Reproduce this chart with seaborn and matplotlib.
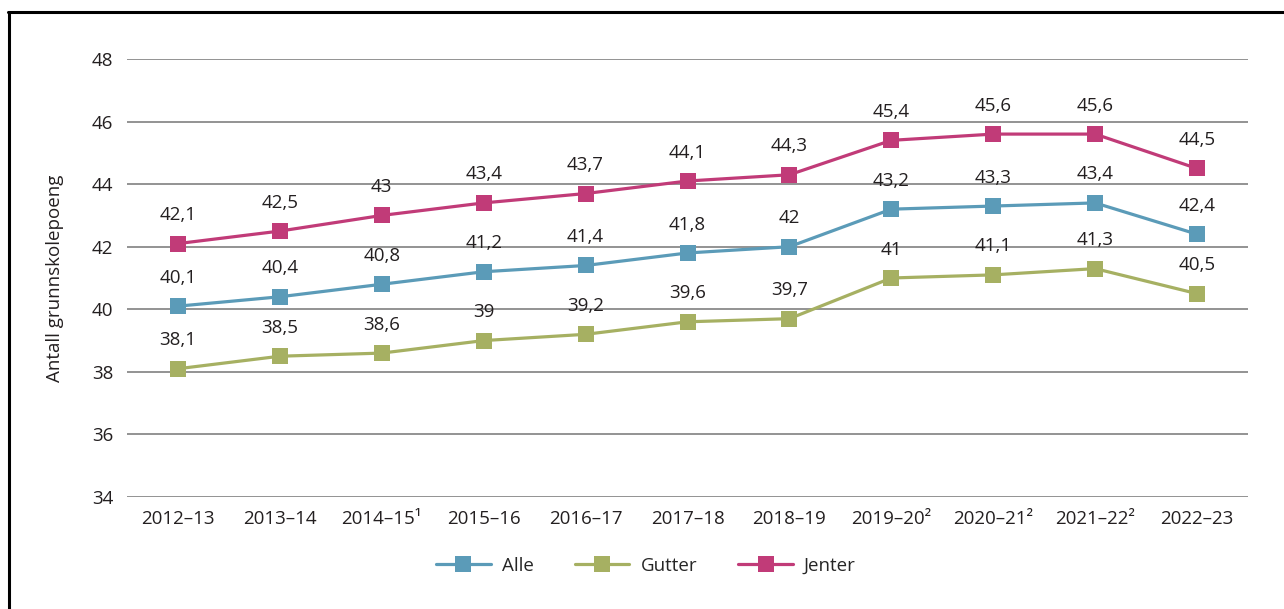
import pandas as pd
import seaborn as sns
import matplotlib.pyplot as plt
from matplotlib.lines import Line2D

# Data
years = ["2012–13", "2013–14", "2014–15¹", "2015–16", "2016–17", "2017–18",
         "2018–19", "2019–20²", "2020–21²", "2021–22²", "2022–23"]
alle = [40.1, 40.4, 40.8, 41.2, 41.4, 41.8, 42.0, 43.2, 43.3, 43.4, 42.4]
gutter = [38.1, 38.5, 38.6, 39.0, 39.2, 39.6, 39.7, 41.0, 41.1, 41.3, 40.5]
jenter = [42.1, 42.5, 43.0, 43.4, 43.7, 44.1, 44.3, 45.4, 45.6, 45.6, 44.5]
series_names = ["Alle", "Gutter", "Jenter"]
colors = ["#5b9bb8", "#a6b062", "#c13b78"]

df = pd.DataFrame({"År": years * 3,
                   "Poeng": alle + gutter + jenter,
                   "Gruppe": [n for n in series_names for _ in years]})

sns.set_theme(style="white")
plt.rcParams["font.family"] = ["Open Sans", "DejaVu Sans"]
FS = 13.5

fig = plt.figure(figsize=(12.84, 6.09), dpi=100)
ax = fig.add_axes([127 / 1284, 1 - 497 / 609, 1121 / 1284, 438 / 609])

sns.lineplot(data=df, x="År", y="Poeng", hue="Gruppe", palette=colors,
             marker="s", markersize=11, markeredgewidth=0, linewidth=2.3,
             sort=False, ax=ax, legend=False)

# value labels
for vals, name in zip([alle, gutter, jenter], series_names):
    for i, v in enumerate(vals):
        txt = f"{v:g}".replace(".", ",")
        ax.annotate(txt, (i, v), xytext=(0, 14), textcoords="offset points",
                    ha="center", va="bottom", fontsize=FS, color="#231f20")

ax.set_ylim(34, 48)
ax.set_yticks(range(34, 49, 2))
ax.set_xlim(-0.5, len(years) - 0.5)
ax.yaxis.grid(True, color="#808080", linewidth=1.2)
ax.set_axisbelow(True)
for s in ax.spines.values():
    s.set_visible(False)
ax.tick_params(axis="both", length=0, labelsize=FS, labelcolor="#231f20")
ax.tick_params(axis="x", pad=9)
ax.tick_params(axis="y", pad=10)
ax.set_xlabel("")
ax.set_ylabel("Antall grunnskolepoeng", fontsize=FS, color="#231f20", labelpad=20)

handles = [Line2D([], [], color=c, marker="s", markersize=11, markeredgewidth=0,
                  linewidth=2.3) for c in colors]
fig.legend(handles, series_names, loc="center", bbox_to_anchor=(646 / 1284, 1 - 566 / 609),
           ncol=3, frameon=False, fontsize=FS, handlelength=2.9, columnspacing=2.2,
           handletextpad=0.6)

# frame lines at top and left
fig.add_artist(Line2D([8 / 1284, 1], [1 - 12 / 609, 1 - 12 / 609], color="black",
                      linewidth=2.2, transform=fig.transFigure))
fig.add_artist(Line2D([9 / 1284, 9 / 1284], [0, 1 - 12 / 609], color="black",
                      linewidth=2.2, transform=fig.transFigure))

fig.savefig("out.png", dpi=100)
